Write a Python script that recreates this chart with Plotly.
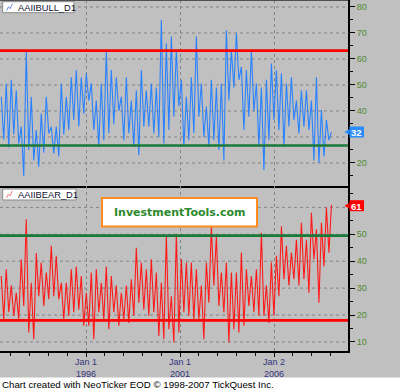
import numpy as np
import pandas as pd
import plotly.graph_objects as go

# ---------------- data ----------------
bull_values = [
    45.5, 29, 50.6, 26, 52, 31, 48, 27.5, 34, 15, 63, 25, 45.5, 21, 32.7, 18.6, 39, 24, 45.5, 31.4,
    34, 23.7, 34, 22.5, 50.6, 31, 45.5, 32.7, 53, 36.5, 55.8, 34, 53, 39, 54.5, 44, 50.6, 32.7, 44, 26.3,
    50.6, 28.8, 63, 31.4, 55.8, 35, 53, 40, 45.5, 28.8, 53, 31.4, 44, 26.3, 48, 23, 55.8, 34, 48, 34,
    50.6, 31.4, 49, 30, 75, 27.5,
    66, 32.7, 68.6, 37.8, 63.5, 41.7, 52, 26.3, 45.5, 28.8, 53, 31.4, 68.6, 37.8, 50.6, 30, 41.7, 26.3, 52, 28.8,
    49, 25, 50.6, 21, 71, 44, 63.5, 49, 70, 52, 57, 32.7, 55.8, 37.8, 63.5, 40, 50.6, 26.3, 49, 17.3,
    52, 28.8, 58.3, 36.5, 55.8, 32.7, 54.5, 26.3, 50.6, 34, 53, 36.5, 44, 31.4, 48, 34, 48, 32.7, 44, 21,
    53, 20, 40.4, 22.5, 36.5, 28.8, 32,
]
bear_values = [
    34.5, 18.4, 37, 21, 31, 19.7, 28.3, 18.4, 40.7, 23.4, 55.6, 13.5, 32, 11, 43, 27, 39.5, 23.4, 35.8, 25.9,
    45.7, 27, 42, 25.9, 32, 18.4, 32, 19.7, 37, 21, 38, 22, 34.5, 16, 28.3, 16, 35.8, 11, 37, 21,
    32, 18.4, 38, 14.7, 34.5, 21, 31, 16, 28.3, 18.4, 31, 17, 33.3, 19.7, 45, 24.6, 39.5, 22, 37, 19.7,
    40.7, 21, 35.8, 12.2, 32, 11,
    49.5, 14.7, 27, 9.8, 50, 13.5, 40.7, 21, 39.5, 19.7, 39.5, 18.4, 37, 18.4, 31, 11, 39.5, 24.6, 53, 31,
    49.4, 23.4, 35.8, 21, 39.5, 9.8, 35.8, 14.7, 35.8, 13.5, 43.2, 16, 37, 23.4, 34.5, 21, 37, 19.7, 50.6, 19.7,
    31, 17, 39.5, 19.7, 42, 27, 53, 33.3, 45.7, 31, 43.2, 33.3, 48, 31, 54.3, 33.3, 48, 28.3, 58, 40.7,
    51.9, 24.6, 54.3, 38, 60, 43.2, 61,
]
bull_levels = [63.2, 26.7]      # red (upper), green (lower)
bear_levels = [49.5, 18.0]      # green (upper), red (lower)
bull_ticks = [20, 40, 50, 60, 70, 80]      # 30 sits under the last-value tag
bear_ticks = [10, 20, 30, 40, 50]          # 60 sits under the last-value tag
bull_last_label = "32"
bear_last_label = "61"
tick_dates = ["1996-01-01", "2001-01-01", "2006-01-02"]
tick_labels = ["Jan 1<br>1996", "Jan 1<br>2001", "Jan 2<br>2006"]
series_start = "1991-06-29"
series_step_days = 48.6
x_range = ["1991-06-05", "2009-12-08"]
bull_range = [11.15, 82.69]
bear_range = [6.62, 67.96]
footer = "Chart created with NeoTicker EOD \u00a9 1998-2007 TickQuest Inc."

# ---------------- helpers ----------------
W, H = 400, 390
PL, PR, PT, PB = 0, 52, 0, 39
PW, PH = W - PL - PR, H - PT - PB


def px(x):
    return (x - PL) / PW


def py(y):
    return (PT + PH - y) / PH


split = py(186)

bull_dates = pd.Timestamp(series_start) + pd.to_timedelta(np.arange(len(bull_values)) * series_step_days, unit="D")
bear_dates = pd.Timestamp(series_start) + pd.to_timedelta(np.arange(len(bear_values)) * series_step_days, unit="D")

fig = go.Figure()
fig.add_trace(go.Scatter(x=bull_dates, y=bull_values, mode="lines",
                         line=dict(color="#2a82ff", width=1.1), xaxis="x", yaxis="y", hoverinfo="skip"))
fig.add_trace(go.Scatter(x=bear_dates, y=bear_values, mode="lines",
                         line=dict(color="#ff1a1a", width=1.1), xaxis="x2", yaxis="y2", hoverinfo="skip"))

RED, GREEN = "#ff0000", "#1a7a3a"
fig.add_trace(go.Scatter(x=x_range, y=[bull_levels[0]] * 2, mode="lines", line=dict(color=RED, width=2.6),
                         xaxis="x", yaxis="y", hoverinfo="skip"))
fig.add_trace(go.Scatter(x=x_range, y=[bull_levels[1]] * 2, mode="lines", line=dict(color=GREEN, width=2.6),
                         xaxis="x", yaxis="y", hoverinfo="skip"))
fig.add_trace(go.Scatter(x=x_range, y=[bear_levels[0]] * 2, mode="lines", line=dict(color=GREEN, width=2.6),
                         xaxis="x2", yaxis="y2", hoverinfo="skip"))
fig.add_trace(go.Scatter(x=x_range, y=[bear_levels[1]] * 2, mode="lines", line=dict(color=RED, width=2.6),
                         xaxis="x2", yaxis="y2", hoverinfo="skip"))

GRID = "#858585"
TICKGREEN = "#4f8a2f"
NAVY = "#34347c"
common_x = dict(type="date", range=x_range, tickmode="array", tickvals=tick_dates,
                showgrid=True, gridcolor=GRID, griddash="3px,3px", gridwidth=1,
                showline=True, linecolor="black", linewidth=2, zeroline=False, showticklabels=False)
common_y = dict(side="right", tickmode="array", ticks="outside", ticklen=5, tickcolor="black",
                showgrid=False, showline=True, linecolor="black", linewidth=2, zeroline=False,
                tickfont=dict(family="Arial", size=9, color=TICKGREEN),
                minor=dict(dtick=5, tick0=0, ticklen=3, ticks="outside", tickcolor="black",
                           showgrid=False))

fig.update_layout(
    width=W, height=H,
    margin=dict(l=PL, r=PR, t=PT, b=PB, autoexpand=False),
    paper_bgcolor="#c0c0c0", plot_bgcolor="#c0c0c0",
    showlegend=False,
    xaxis=dict(**common_x, domain=[0, 1], anchor="y", ticks=""),
    xaxis2=dict(**common_x, domain=[0, 1], anchor="y2", matches="x",
                ticks="outside", ticklen=4, tickcolor="black",
                minor=dict(dtick="M12", ticklen=3, ticks="outside", tickcolor="black", showgrid=False)),
    yaxis=dict(**common_y, domain=[split, 1], range=bull_range, anchor="x", tickvals=bull_ticks),
    yaxis2=dict(**common_y, domain=[0, split], range=bear_range, anchor="x2", tickvals=bear_ticks),
)

shapes = []
annotations = []
# date labels under the lower axis, placed through the x2 scale
for d, t in zip(tick_dates, tick_labels):
    annotations.append(dict(text=t, xref="x2", yref="paper", x=d, y=py(367.5), xanchor="center",
                            yanchor="middle", showarrow=False, align="center",
                            font=dict(family="Arial", size=9, color=NAVY)))
# horizontal dashed gridlines at every 10 (including those hidden under the value tags)
for lo, hi, yref in [(20, 80, "y"), (10, 60, "y2")]:
    for v in range(lo, hi + 1, 10):
        shapes.append(dict(type="line", xref="paper", yref=yref, x0=0, x1=1, y0=v, y1=v,
                           line=dict(color=GRID, width=1, dash="3px,3px"), layer="below"))
# top frame line
shapes.append(dict(type="line", xref="paper", yref="paper", x0=px(0), x1=px(348), y0=py(0.5), y1=py(0.5),
                   line=dict(color="#505050", width=1)))
# footer strip
shapes.append(dict(type="rect", xref="paper", yref="paper", x0=px(0), x1=px(400), y0=py(377.5), y1=py(391),
                   fillcolor="white", line=dict(width=0), layer="above"))
annotations.append(dict(text=footer, xref="paper", yref="paper", x=px(0), y=py(384.5), xanchor="left",
                        yanchor="middle", showarrow=False, font=dict(family="Arial", size=9.7, color="black")))

# panel title boxes
for (x0, y0, x1, y1, label, icol) in [(2.7, 1.7, 74, 12.7, "AAIIBULL_D1", "#6f8fe0"),
                                      (2.7, 189, 76, 200, "AAIIBEAR_D1", "#f08080")]:
    shapes.append(dict(type="rect", xref="paper", yref="paper", x0=px(x0), x1=px(x1), y0=py(y0), y1=py(y1),
                       fillcolor="white", line=dict(color="#8a8a8a", width=1), layer="above"))
    ym = (y0 + y1) / 2
    path = "M {:.4f},{:.4f} L {:.4f},{:.4f} L {:.4f},{:.4f} L {:.4f},{:.4f}".format(
        px(6.5), py(ym + 3.5), px(8.5), py(ym - 0.5), px(10), py(ym + 1.5), px(12.5), py(ym - 3.5))
    shapes.append(dict(type="path", xref="paper", yref="paper", path=path,
                       line=dict(color=icol, width=1), layer="above"))
    annotations.append(dict(text=label, xref="paper", yref="paper", x=px(15.5), y=py(ym + 0.3), xanchor="left",
                            yanchor="middle", showarrow=False, font=dict(family="Arial", size=9.3, color="#101030")))

# watermark
shapes.append(dict(type="rect", xref="paper", yref="paper", x0=px(102), x1=px(257), y0=py(198), y1=py(226.5),
                   fillcolor="white", line=dict(color="#ff8a1e", width=2), layer="above"))
annotations.append(dict(text="<b>InvestmentTools.com</b>", xref="paper", yref="paper", x=px(179.5), y=py(212.5),
                        xanchor="center", yanchor="middle", showarrow=False,
                        font=dict(family="DejaVu Sans", size=11, color="#2c8a2c")))

# last value markers
for (yc, label, col) in [(132, bull_last_label, "#2a8cff"), (205.7, bear_last_label, "#ff0000")]:
    shapes.append(dict(type="rect", xref="paper", yref="paper", x0=px(349.5), x1=px(364), y0=py(yc - 5.5),
                       y1=py(yc + 5.5), fillcolor=col, line=dict(width=0), layer="above"))
    tri = "M {:.4f},{:.4f} L {:.4f},{:.4f} L {:.4f},{:.4f} Z".format(
        px(344.5), py(yc), px(349.5), py(yc - 3), px(349.5), py(yc + 3))
    shapes.append(dict(type="path", xref="paper", yref="paper", path=tri, fillcolor=col,
                       line=dict(width=0), layer="above"))
    annotations.append(dict(text="<b>" + label + "</b>", xref="paper", yref="paper", x=px(356.7), y=py(yc + 0.3),
                            xanchor="center", yanchor="middle", showarrow=False,
                            font=dict(family="Arial", size=9.5, color="white")))

fig.update_layout(shapes=shapes, annotations=annotations)
fig.write_html("out.html", config={"displayModeBar": False},
               post_script="document.body.style.margin='0';document.body.style.padding='0';")
